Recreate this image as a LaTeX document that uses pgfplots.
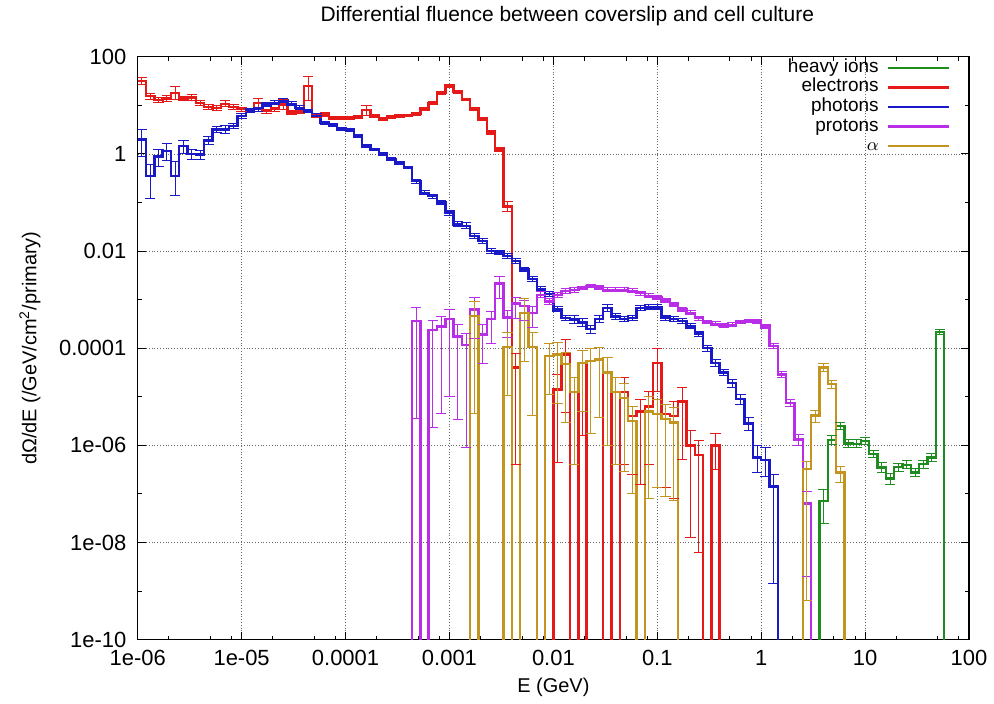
\documentclass[border=0pt]{standalone}
\usepackage{fontspec}
\setmainfont{Liberation Sans}
\usepackage{pgfplots}
\usepackage{pgfplotstable}
\pgfplotsset{compat=1.18}

\definecolor{cion}{RGB}{30,140,30}
\definecolor{cel}{RGB}{230,25,25}
\definecolor{cph}{RGB}{25,25,200}
\definecolor{cpr}{RGB}{185,45,230}
\definecolor{cal}{RGB}{195,148,30}

% b = bin (0.08 decade wide from 1e-6 GeV), ly = log10 of the fluence, ep/em = error up/down in decades
% ly = -15 marks an empty bin
\pgfplotstableread{
b ly ep em
81 -15 0 0
82 -7.15 .25 .45
83 -5.89 .1 .1
84 -5.60 .08 .08
85 -5.96 .08 .08
86 -5.97 .08 .08
87 -5.91 .08 .08
88 -6.18 .08 .08
89 -6.46 .1 .1
90 -6.68 .1 .12
91 -6.45 .08 .08
92 -6.40 .08 .08
93 -6.56 .08 .08
94 -6.39 .08 .08
95 -6.25 .08 .08
96 -3.67 .05 .05
97 -15 0 0
}\heavy

\pgfplotstableread{
b ly ep em
0 1.50 .08 .08
1 1.19 .06 .06
2 1.11 .05 .05
3 1.14 .06 .06
4 1.26 .13 .13
5 1.14 .05 .05
6 1.16 .06 .06
7 1.05 .05 .05
8 0.97 .05 .05
9 0.95 .05 .05
10 1.03 .06 .06
11 0.97 .05 .05
12 0.92 .04 .04
13 0.90 .04 .04
14 1.05 .1 .1
15 0.88 .04 .04
16 0.92 .04 .04
17 1.02 .1 .1
18 0.85 .04 .04
19 0.87 .04 .04
20 1.40 .2 .3
21 0.78 .04 .04
22 0.81 .04 .04
23 0.74 .03 .03
24 0.74 .03 .03
25 0.74 .03 .03
26 0.76 .03 .03
27 0.90 .1 .1
28 0.78 .03 .03
29 0.72 .03 .03
30 0.76 .03 .03
31 0.78 .03 .03
32 0.79 .03 .03
33 0.83 .03 .03
34 0.92 .03 .03
35 1.05 .03 .03
36 1.26 .03 .03
37 1.40 .03 .03
38 1.28 .03 .03
39 1.12 .03 .03
40 0.92 .03 .03
41 0.71 .03 .03
42 0.44 .04 .04
43 0.09 .05 .05
44 -1.08 .1 .1
45 -4.40 .3 2.0
46 -15 0 0
47 -15 0 0
48 -15 0 0
49 -15 0 0
50 -4.85 .3 1.5
51 -4.13 .3 1.2
52 -15 0 0
53 -4.30 .25 1.5
54 -15 0 0
55 -15 0 0
56 -4.50 .3 1.5
57 -15 0 0
58 -4.90 .3 1.5
59 -5.40 .2 1.2
60 -5.30 .25 1.5
61 -5.20 .3 1.2
62 -4.30 .3 .6
63 -5.36 .2 1.5
64 -5.40 .3 1.7
65 -5.10 .3 1.2
66 -6.00 .3 1.9
67 -6.20 .3 2.0
68 -15 0 0
69 -6.00 .25 .5
70 -15 0 0
}\electrons

\pgfplotstableread{
b ly ep em
0 0.30 .2 .35
1 -0.46 .25 .45
2 -0.05 .15 .2
3 0.06 .15 .2
4 -0.46 .3 .4
5 0.16 .12 .15
6 0.00 .1 .12
7 -0.01 .08 .1
8 0.28 .08 .08
9 0.50 .06 .06
10 0.50 .08 .08
11 0.57 .05 .05
12 0.78 .05 .05
13 0.89 .04 .04
14 0.92 .04 .04
15 1.02 .04 .04
16 1.05 .04 .04
17 1.10 .05 .05
18 1.03 .04 .04
19 0.95 .04 .04
20 0.88 .03 .03
21 0.81 .03 .03
22 0.64 .03 .03
23 0.59 .03 .03
24 0.52 .03 .03
25 0.50 .03 .03
26 0.37 .03 .03
27 0.16 .03 .03
28 0.09 .03 .03
29 -0.01 .03 .03
30 -0.11 .03 .03
31 -0.18 .03 .03
32 -0.28 .03 .03
33 -0.56 .04 .04
34 -0.80 .04 .04
35 -0.87 .04 .04
36 -1.00 .04 .04
37 -1.21 .05 .05
38 -1.45 .05 .05
39 -1.48 .06 .06
40 -1.69 .05 .05
41 -1.79 .05 .05
42 -2.00 .05 .05
43 -2.03 .05 .05
44 -2.10 .05 .05
45 -2.20 .05 .05
46 -2.38 .05 .05
47 -2.58 .05 .05
48 -2.79 .05 .05
49 -2.89 .05 .05
50 -3.20 .05 .05
51 -3.38 .06 .06
52 -3.41 .08 .08
53 -3.47 .08 .08
54 -3.61 .08 .08
55 -3.40 .07 .07
56 -3.17 .07 .07
57 -3.35 .06 .06
58 -3.40 .06 .06
59 -3.38 .06 .06
60 -3.17 .05 .05
61 -3.16 .05 .05
62 -3.16 .05 .05
63 -3.37 .05 .05
64 -3.40 .05 .05
65 -3.44 .05 .05
66 -3.55 .05 .05
67 -3.70 .05 .05
68 -4.00 .06 .06
69 -4.30 .07 .07
70 -4.50 .07 .07
71 -4.72 .08 .08
72 -5.05 .1 .1
73 -5.55 .12 .15
74 -6.25 .25 .3
75 -6.30 .25 .35
76 -6.85 .25 2.0
77 -15 0 0
}\photons

\pgfplotstableread{
b ly ep em
32 -15 0 0
33 -3.44 .27 2.0
34 -15 0 0
35 -3.63 .2 2.0
36 -3.55 .2 1.8
37 -3.40 .2 1.6
38 -3.76 .25 1.7
39 -3.94 .25 2.1
40 -3.20 .25 .6
41 -3.72 .2 .6
42 -3.40 .15 .5
43 -2.67 .15 .3
44 -3.37 .15 .4
45 -3.08 .12 .3
46 -3.13 .12 .3
47 -3.27 .12 .3
48 -2.90 .06 .06
49 -3.04 .06 .06
50 -2.90 .05 .05
51 -2.82 .05 .05
52 -2.80 .05 .05
53 -2.76 .04 .04
54 -2.72 .04 .04
55 -2.75 .04 .04
56 -2.80 .04 .04
57 -2.80 .04 .04
58 -2.80 .04 .04
59 -2.82 .04 .04
60 -2.87 .04 .04
61 -2.92 .04 .04
62 -2.96 .04 .04
63 -3.02 .04 .04
64 -3.10 .04 .04
65 -3.20 .04 .04
66 -3.27 .04 .04
67 -3.38 .04 .04
68 -3.46 .04 .04
69 -3.50 .04 .04
70 -3.53 .04 .04
71 -3.52 .04 .04
72 -3.46 .04 .04
73 -3.44 .04 .04
74 -3.45 .04 .04
75 -3.55 .04 .04
76 -3.96 .05 .05
77 -4.54 .06 .06
78 -5.13 .08 .08
79 -5.88 .1 .12
80 -7.20 .25 1.5
81 -15 0 0
}\protons

\pgfplotstableread{
b ly ep em
39 -15 0 0
40 -3.34 .3 2.0
41 -15 0 0
42 -15 0 0
43 -15 0 0
44 -3.98 .3 1.0
45 -15 0 0
46 -3.27 .3 1.0
47 -3.98 .3 1.4
48 -15 0 0
49 -4.16 .25 .8
50 -4.13 .25 1.0
51 -4.33 .25 1.2
52 -4.90 .3 1.5
53 -4.30 .25 1.0
54 -4.26 .25 1.5
55 -4.23 .25 1.2
56 -4.50 .3 1.5
57 -4.90 .3 1.5
58 -5.03 .3 1.5
59 -5.50 .3 1.5
60 -15 0 0
61 -5.30 .3 1.8
62 -5.36 .3 1.5
63 -5.46 .3 1.6
64 -5.53 .3 1.6
65 -15 0 0
79 -15 0 0
80 -6.49 .15 2.7
81 -5.39 .1 .15
82 -4.40 .08 .08
83 -4.74 .08 .08
84 -6.56 .12 .2
85 -15 0 0
}\alphas

\pgfplotsset{
  hist/.style={line width=1.2pt, const plot mark left, mark=none},
  ebar/.style={forget plot, draw=none, mark=none,
    error bars/.cd, y dir=both, y explicit,
    error bar style={draw=#1, line width=0.5pt, solid},
    error mark=-,
    error mark options={draw=#1, rotate=90, line width=0.5pt, mark size=2.6pt}},
}

\begin{document}
\begin{tikzpicture}[font=\fontsize{9.5}{11}\selectfont]
\begin{axis}[
    scale only axis, width=416.5pt, height=292pt,
    xmin=-6, xmax=2, ymin=-10, ymax=2,
    xtick={-6,...,2},
    xticklabels={1e-06,1e-05,0.0001,0.001,0.01,0.1,1,10,100},
    minor xtick={-5.699,-5.301,-5.097,-4.699,-4.301,-4.097,-3.699,-3.301,-3.097,
                 -2.699,-2.301,-2.097,-1.699,-1.301,-1.097,-0.699,-0.301,-0.097,
                 0.301,0.699,0.903,1.301,1.699,1.903},
    ytick={-10,-8,...,2},
    yticklabels={1e-10,1e-08,1e-06,0.0001,0.01,1,100},
    minor ytick={-9,-7,-5,-3,-1,1},
    tick align=inside,
    major tick length=4pt, minor tick length=2pt,
    every tick/.style={black, line width=0.5pt},
    axis line style={line width=0.6pt},
    xmajorgrids, ymajorgrids,
    grid style={densely dotted, black!60, line width=0.4pt},
    tick label style={font=\fontsize{11}{13}\selectfont},
    xticklabel style={anchor=base, yshift=-13pt},
    yticklabel style={anchor=east, inner sep=0pt, xshift=-5.5pt},
    title={Differential fluence between coverslip and cell culture},
    title style={at={(0.5,1)}, anchor=base, yshift=11.5pt, xshift=7pt, font=\fontsize{10.5}{12}\selectfont},
    xlabel={E (GeV)},
    xlabel style={at={(0.5,0)}, anchor=base, yshift=-26.5pt, font=\fontsize{10}{12}\selectfont},
    ylabel={dΩ/dE (/GeV/cm\textsuperscript{2}/primary)},
    ylabel style={at={(0,0.5)}, anchor=center, yshift=54pt, font=\fontsize{10}{12}\selectfont},
    legend style={draw=none, fill=none, at={(1,1)}, anchor=north east,
        xshift=-9.5pt, yshift=-0.6pt, inner sep=0pt, column sep=4pt, row sep=0.3pt,
        cells={anchor=east},
        nodes={inner sep=0pt, text height=7pt, text depth=2.5pt}},
    legend plot pos=right,
    legend image code/.code={\draw[#1, line width=1.1pt] (0pt,0pt) -- (30.5pt,0pt);},
]
\addplot[cion, hist] table[x expr=\thisrow{b}*0.08-6, y=ly]{\heavy};
\addlegendentry{heavy ions}
\addplot[cel, hist] table[x expr=\thisrow{b}*0.08-6, y=ly]{\electrons};
\addlegendentry{electrons}
\addplot[cph, hist] table[x expr=\thisrow{b}*0.08-6, y=ly]{\photons};
\addlegendentry{photons}
\addplot[cpr, hist] table[x expr=\thisrow{b}*0.08-6, y=ly]{\protons};
\addlegendentry{protons}
\addplot[cal, hist] table[x expr=\thisrow{b}*0.08-6, y=ly]{\alphas};
\addlegendentry{$\alpha$}

\addplot[ebar=cion] table[x expr=\thisrow{b}*0.08-5.96, y=ly, y error plus=ep, y error minus=em]{\heavy};
\addplot[ebar=cel] table[x expr=\thisrow{b}*0.08-5.96, y=ly, y error plus=ep, y error minus=em]{\electrons};
\addplot[ebar=cph] table[x expr=\thisrow{b}*0.08-5.96, y=ly, y error plus=ep, y error minus=em]{\photons};
\addplot[ebar=cpr] table[x expr=\thisrow{b}*0.08-5.96, y=ly, y error plus=ep, y error minus=em]{\protons};
\addplot[ebar=cal] table[x expr=\thisrow{b}*0.08-5.96, y=ly, y error plus=ep, y error minus=em]{\alphas};
\end{axis}
\path ([shift={(-69pt,-30pt)}]current axis.south west) rectangle ([shift={(428pt,315.5pt)}]current axis.south west);
\end{tikzpicture}
\end{document}
